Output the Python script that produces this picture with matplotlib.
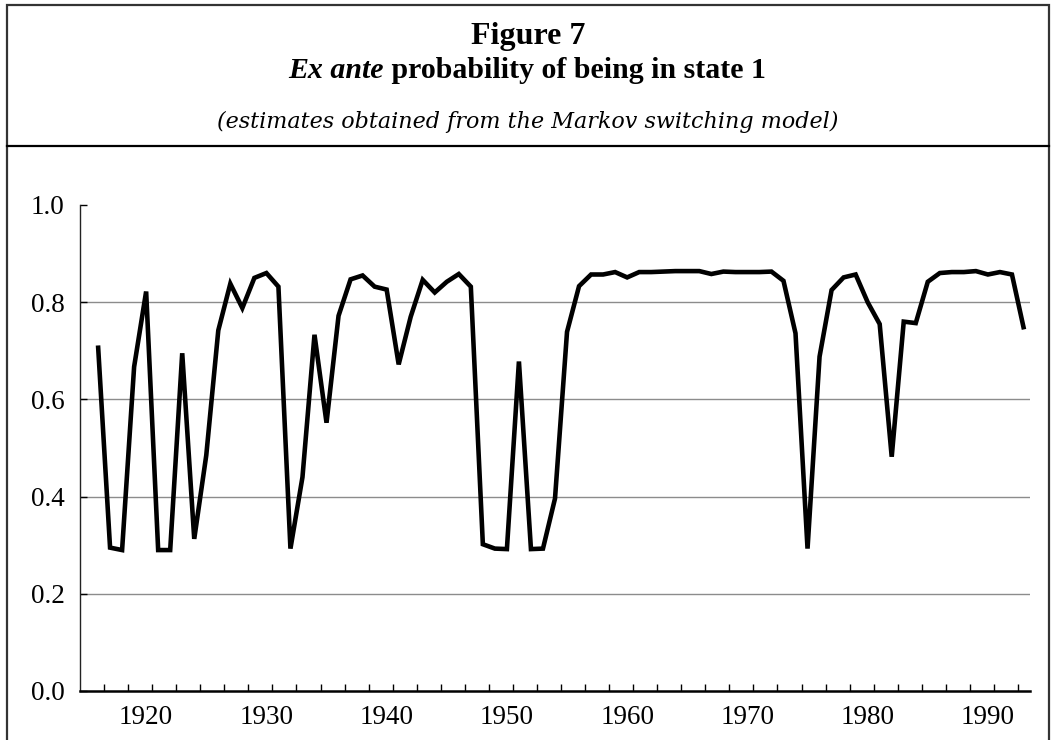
import matplotlib
matplotlib.use("Agg")
import matplotlib.pyplot as plt
from matplotlib.lines import Line2D
from matplotlib.patches import Rectangle

plt.rcParams["font.family"] = ["Liberation Serif", "DejaVu Serif"]

years = list(range(1916, 1994))
prob_state1 = [
    0.711, 0.295, 0.290, 0.667, 0.822, 0.290, 0.290, 0.695, 0.313, 0.485,
    0.742, 0.838, 0.788, 0.850, 0.860, 0.832, 0.293, 0.440, 0.733, 0.552,
    0.772, 0.847, 0.855, 0.832, 0.826, 0.672, 0.770, 0.846, 0.820, 0.842,
    0.858, 0.832, 0.302, 0.293, 0.292, 0.678, 0.292, 0.293, 0.396, 0.739,
    0.833, 0.857, 0.857, 0.862, 0.851, 0.862, 0.862, 0.863, 0.864, 0.864,
    0.864, 0.858, 0.863, 0.862, 0.862, 0.862, 0.863, 0.844, 0.736, 0.293,
    0.688, 0.825, 0.851, 0.857, 0.800, 0.755, 0.482, 0.760, 0.757, 0.842,
    0.860, 0.862, 0.862, 0.864, 0.857, 0.862, 0.857, 0.744,
]
year_labels = [1920, 1930, 1940, 1950, 1960, 1970, 1980, 1990]
y_ticks = [0.0, 0.2, 0.4, 0.6, 0.8, 1.0]

W, H = 1051, 740
fig = plt.figure(figsize=(W / 100, H / 100), dpi=100)

# outer frame and the rule under the heading
fig.patches.append(Rectangle((7 / W, -0.01), (1049 - 7) / W, (H - 5) / H + 0.01,
                             transform=fig.transFigure, fill=False,
                             edgecolor="#333333", linewidth=1.6))
fig.lines.append(Line2D([7 / W, 1049 / W], [1 - 146 / H, 1 - 146 / H],
                        transform=fig.transFigure, color="black", linewidth=1.6))

fig.text(528 / W, 1 - 44 / H, "Figure 7", ha="center", va="baseline",
         weight="bold", fontsize=23)
t1 = fig.text(0, 1 - 78 / H, "Ex ante", ha="left", va="baseline",
              weight="bold", style="italic", fontsize=21.5)
t2 = fig.text(0, 1 - 78 / H, " probability of being in state 1", ha="left",
              va="baseline", weight="bold", fontsize=21.5)
fig.text(528 / W, 1 - 128 / H,
         "(estimates obtained from the Markov switching model)",
         ha="center", va="baseline", family="DejaVu Serif", style="italic",
         fontsize=16)

# centre the mixed-style second line
r = fig.canvas.get_renderer()
w1 = t1.get_window_extent(r).width
w2 = t2.get_window_extent(r).width
x0 = 527 - (w1 + w2) / 2
t1.set_x(x0 / W)
t2.set_x((x0 + w1) / W)

ax = fig.add_axes([80 / W, 1 - 691 / H, (1030 - 80) / W, (691 - 205) / H])
ax.plot(years, prob_state1, color="black", linewidth=3.3,
        solid_joinstyle="miter", solid_capstyle="butt", zorder=3)

ax.set_xlim(1914.5, 1993.5)
ax.set_ylim(0, 1.0)
ax.set_yticks(y_ticks)
ax.set_yticklabels([f"{v:.1f}" for v in y_ticks])
ax.set_xticks(year_labels)
ax.set_xticklabels([str(y) for y in year_labels])
ax.set_xticks([y + 0.5 for y in years[:-1:2]], minor=True)

for v in y_ticks[1:-1]:
    ax.axhline(v, color="#8c8c8c", linewidth=1.0, zorder=1)

for s in ["top", "right"]:
    ax.spines[s].set_visible(False)
ax.spines["left"].set_color("#222222")
ax.spines["left"].set_linewidth(1.0)
ax.spines["bottom"].set_color("black")
ax.spines["bottom"].set_linewidth(1.8)

ax.tick_params(axis="y", direction="in", length=5, width=1.0, pad=11,
               labelsize=19.5)
ax.tick_params(axis="x", which="major", length=0, pad=10, labelsize=19.5)
ax.tick_params(axis="x", which="minor", direction="in", length=5, width=1.0)

fig.savefig("out.png", dpi=100)
plt.close(fig)
